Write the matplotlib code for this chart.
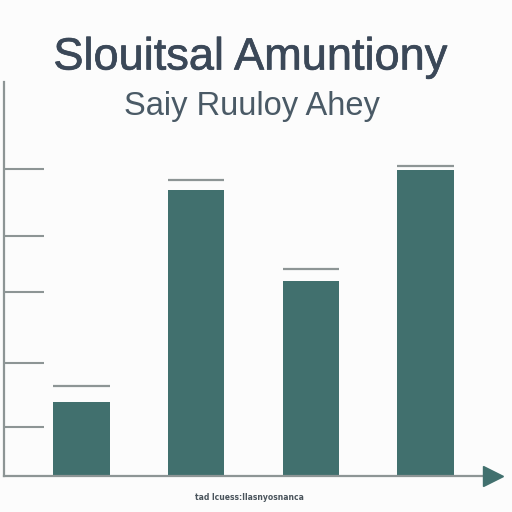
import matplotlib
matplotlib.use("Agg")
import matplotlib.pyplot as plt
import matplotlib.patheffects as pe

# Chart data (in axis units)
categories = ["A", "B", "C", "D"]
values = [74, 286, 195, 306]
caps = [90, 296, 207, 310]
ytick_pos = [49, 113, 184, 240, 307]

title = "Slouitsal Amuntiony"
subtitle = "Saiy Ruuloy Ahey"
xlabel = "tad lcuess:Ilasnyosnanca"

bar_color = "#41706e"
axis_color = "#8d9595"
text_color = "#3b4858"

fig = plt.figure(figsize=(5.12, 5.12), dpi=100)
fig.patch.set_facecolor("#fcfcfc")
ax = fig.add_axes([4 / 512, 36 / 512, 496 / 512, 394 / 512])
ax.set_facecolor("none")

x = list(range(len(categories)))
width = 0.49
ax.bar(x, values, width=width, color=bar_color, zorder=2)
ax.hlines(caps, [i - width / 2 for i in x], [i + width / 2 for i in x],
          color=axis_color, linewidth=1.6, zorder=2)

ax.set_xlim(-0.676, 3.65)
ax.set_ylim(0, 394)

for s in ["top", "right"]:
    ax.spines[s].set_visible(False)
ax.spines["left"].set_color(axis_color)
ax.spines["left"].set_linewidth(1.6)
ax.spines["bottom"].set_color(axis_color)
ax.spines["bottom"].set_linewidth(1.6)
ax.spines["bottom"].set_bounds(-0.676, 3.53)

# arrow head at the end of the x axis
ax.plot([3.585], [0], marker=">", markersize=14, color=bar_color,
        clip_on=False, zorder=3)

ax.set_xticks([])
ax.set_yticks(ytick_pos)
ax.set_yticklabels([])
ax.tick_params(axis="y", direction="in", length=29, width=1.5, color=axis_color)

fig.text(250 / 512, 1 - 58 / 512, title, ha="center", va="center",
         fontsize=32.5, color=text_color, family="Liberation Sans",
         path_effects=[pe.withStroke(linewidth=0.5, foreground=text_color)])
fig.text(252 / 512, 1 - 106 / 512, subtitle, ha="center", va="center",
         fontsize=23.5, color="#4a5a66", family="Liberation Sans")
fig.text(249 / 512, 1 - 497 / 512, xlabel, ha="center", va="center",
         fontsize=5.5, color="#4a545c", weight="bold")

fig.savefig("out.png", dpi=100, facecolor=fig.get_facecolor())
